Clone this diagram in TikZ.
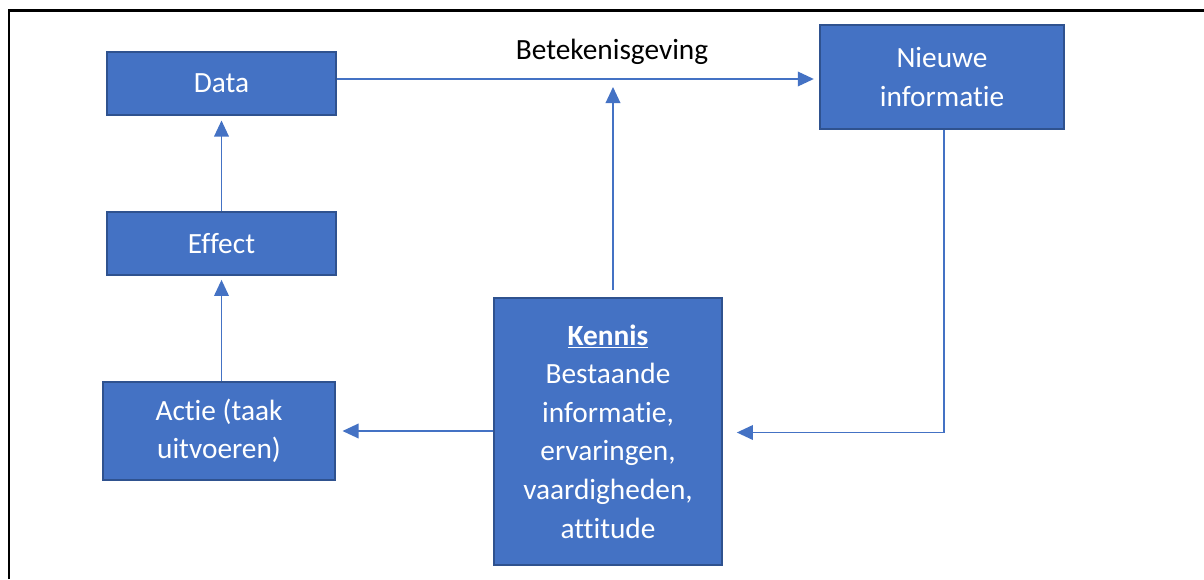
\documentclass[tikz,border=0pt]{standalone}
\usepackage{fontspec}
\setmainfont[Ligatures={NoCommon}]{Carlito}
\usetikzlibrary{arrows.meta}
\definecolor{boxfill}{HTML}{4472C4}
\definecolor{boxline}{HTML}{2F528F}
\definecolor{linkcol}{HTML}{4472C4}
\begin{document}
\begin{tikzpicture}[x=0.75pt,y=-0.75pt,
  blok/.style={draw=boxline,line width=1.3pt,fill=boxfill,text=white,
    inner sep=0pt,align=center,font=\fontsize{22}{28.9}\selectfont},
  link/.style={draw=linkcol,line width=1pt,
    -{Triangle[length=12pt,width=11pt]}}
]
\useasboundingbox (0,0) rectangle (1204,579);
% outer frame (only top and left edges fall inside the page)
\draw[line width=1.8pt] (8.7,579) -- (8.7,10.5) -- (1204,10.5);

% boxes
\node[blok,minimum width=171.75pt,minimum height=47.25pt] (data) at (221.5,83.5) {Data};
\node[blok,minimum width=171.75pt,minimum height=47.25pt] (effect) at (221.5,243.5) {Effect};
\node[blok,minimum width=174pt,minimum height=73.5pt] (actie) at (219,431) {Actie (taak\\uitvoeren)};
\node[blok,minimum width=171pt,minimum height=200.25pt] (kennis) at (608,431.5)
  {\underline{\textbf{Kennis}}\\Bestaande\\informatie,\\ervaringen,\\vaardigheden,\\attitude};
\node[blok,minimum width=183pt,minimum height=78pt] (nieuw) at (942,77) {Nieuwe\\informatie};

% label above the top connector
\node[anchor=base,font=\fontsize{22}{28.9}\selectfont] (betek) at (612,59) {Betekenisgeving};

% connectors
\coordinate (tipup) at (613,87);
\draw[link] (data.east |- 0,79) -- ([xshift=-4pt]nieuw.west |- 0,79);
\draw[link] (effect.north) -- ([yshift=-3.5pt]data.south);
\draw[link] (actie.north -| effect.north) -- ([yshift=-3pt]effect.south);
\draw[link] (kennis.west |- 0,431) -- ([xshift=5pt]actie.east |- 0,431);
\draw[link,shorten <=5pt] (kennis.north -| tipup) -- (tipup);
\draw[link] (nieuw.south -| 944,0) -- (944,432.5) -- ([xshift=10.5pt]kennis.east |- 0,432.5);
\end{tikzpicture}
\end{document}
